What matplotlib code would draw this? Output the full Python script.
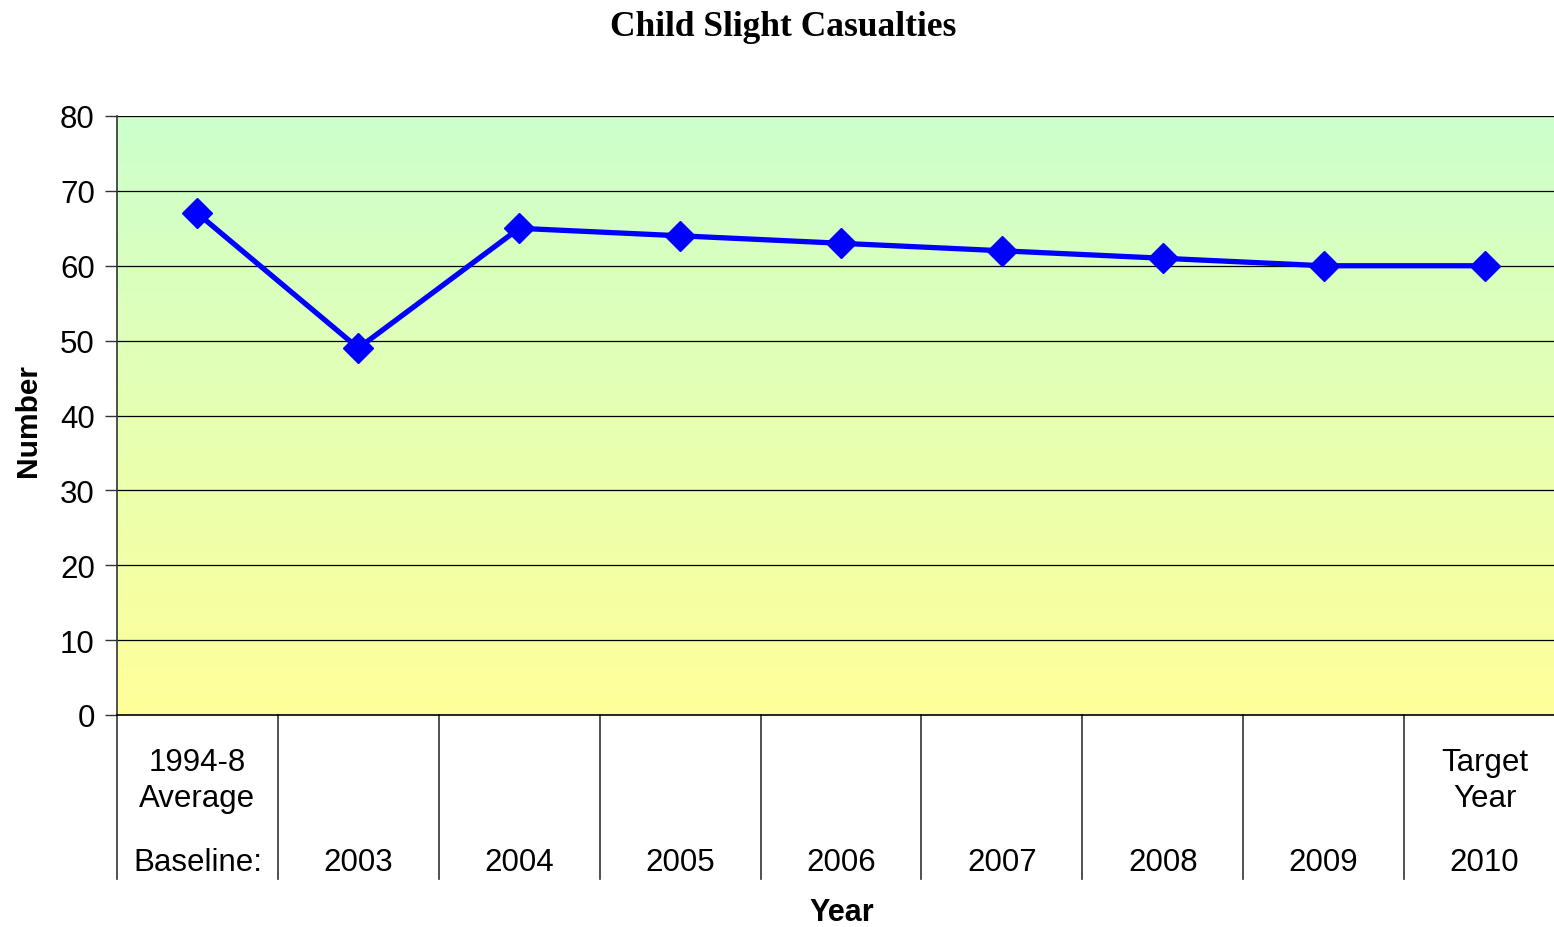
import numpy as np
import matplotlib
matplotlib.use("Agg")
import matplotlib.pyplot as plt
from matplotlib.colors import LinearSegmentedColormap
import matplotlib.transforms as mtransforms

# Data
categories = ["Baseline:", "2003", "2004", "2005", "2006", "2007", "2008", "2009", "2010"]
upper_labels = ["1994-8\nAverage", "", "", "", "", "", "", "", "Target\nYear"]
values = [67, 49, 65, 64, 63, 62, 61, 60, 60]
yticks = [0, 10, 20, 30, 40, 50, 60, 70, 80]

W, H = 1554, 928
fig = plt.figure(figsize=(W / 100, H / 100), dpi=100)
plt.rcParams['font.family'] = ['Liberation Sans', 'DejaVu Sans']

left_px, right_px, top_px, bottom_px = 117, 1565, 117, 716
ax = fig.add_axes([left_px / W, (H - bottom_px) / H, (right_px - left_px) / W, (bottom_px - top_px) / H])

n = len(categories)
x = np.arange(n)
ax.set_xlim(-0.5, n - 0.5)
ax.set_ylim(0, 80)

# gradient background
cmap = LinearSegmentedColormap.from_list("bg", ["#FFFF99", "#CCFFCC"])
grad = np.linspace(0, 1, 256).reshape(-1, 1)
ax.imshow(grad, cmap=cmap, aspect='auto', origin='lower',
          extent=[-0.5, n - 0.5, 0, 80], zorder=0)

# gridlines
for yv in yticks[1:]:
    ax.axhline(yv, color='black', lw=0.9, zorder=1)

ax.plot(x, values, color='#0000FF', lw=3.8, marker='D', markersize=15,
        markerfacecolor='#0000FF', markeredgecolor='#0000FF', zorder=3)

ax.set_yticks(yticks)
ax.set_yticklabels([str(v) for v in yticks], fontsize=22.5)
ax.tick_params(axis='y', length=9, width=1, color='#333333', pad=7)
ax.set_xticks([])

for s in ['top', 'right']:
    ax.spines[s].set_visible(False)
ax.spines['left'].set_color('#333333')
ax.spines['left'].set_linewidth(1.2)
ax.spines['bottom'].set_color('black')
ax.spines['bottom'].set_linewidth(1.2)

ph = bottom_px - top_px
def yfrac(py):
    return (bottom_px - py) / ph

trans = mtransforms.blended_transform_factory(ax.transData, ax.transAxes)
# category dividers
for b in np.arange(-0.5, n - 0.5 + 1e-9, 1.0):
    ax.plot([b, b], [0, yfrac(880)], transform=trans, color='#333333', lw=1.2, clip_on=False)

for i in range(n):
    ax.text(i, yfrac(863), categories[i], transform=trans, ha='center', va='center', fontsize=22.5)
    if upper_labels[i]:
        ax.text(i, yfrac(781), upper_labels[i], transform=trans, ha='center', va='center',
                fontsize=22.5, linespacing=1.3)

fig.text(28 / W, 1 - 421 / H, "Number", rotation=90, ha='center', va='center',
         fontsize=21.5, fontweight='bold')
fig.text(842 / W, 1 - 913 / H, "Year", ha='center', va='center', fontsize=22, fontweight='bold')
fig.text(783 / W, 1 - 27 / H, "Child Slight Casualties", ha='center', va='center',
         fontsize=25.5, fontweight='bold', family=['Liberation Serif', 'DejaVu Serif'])

fig.savefig("out.png", dpi=100)
